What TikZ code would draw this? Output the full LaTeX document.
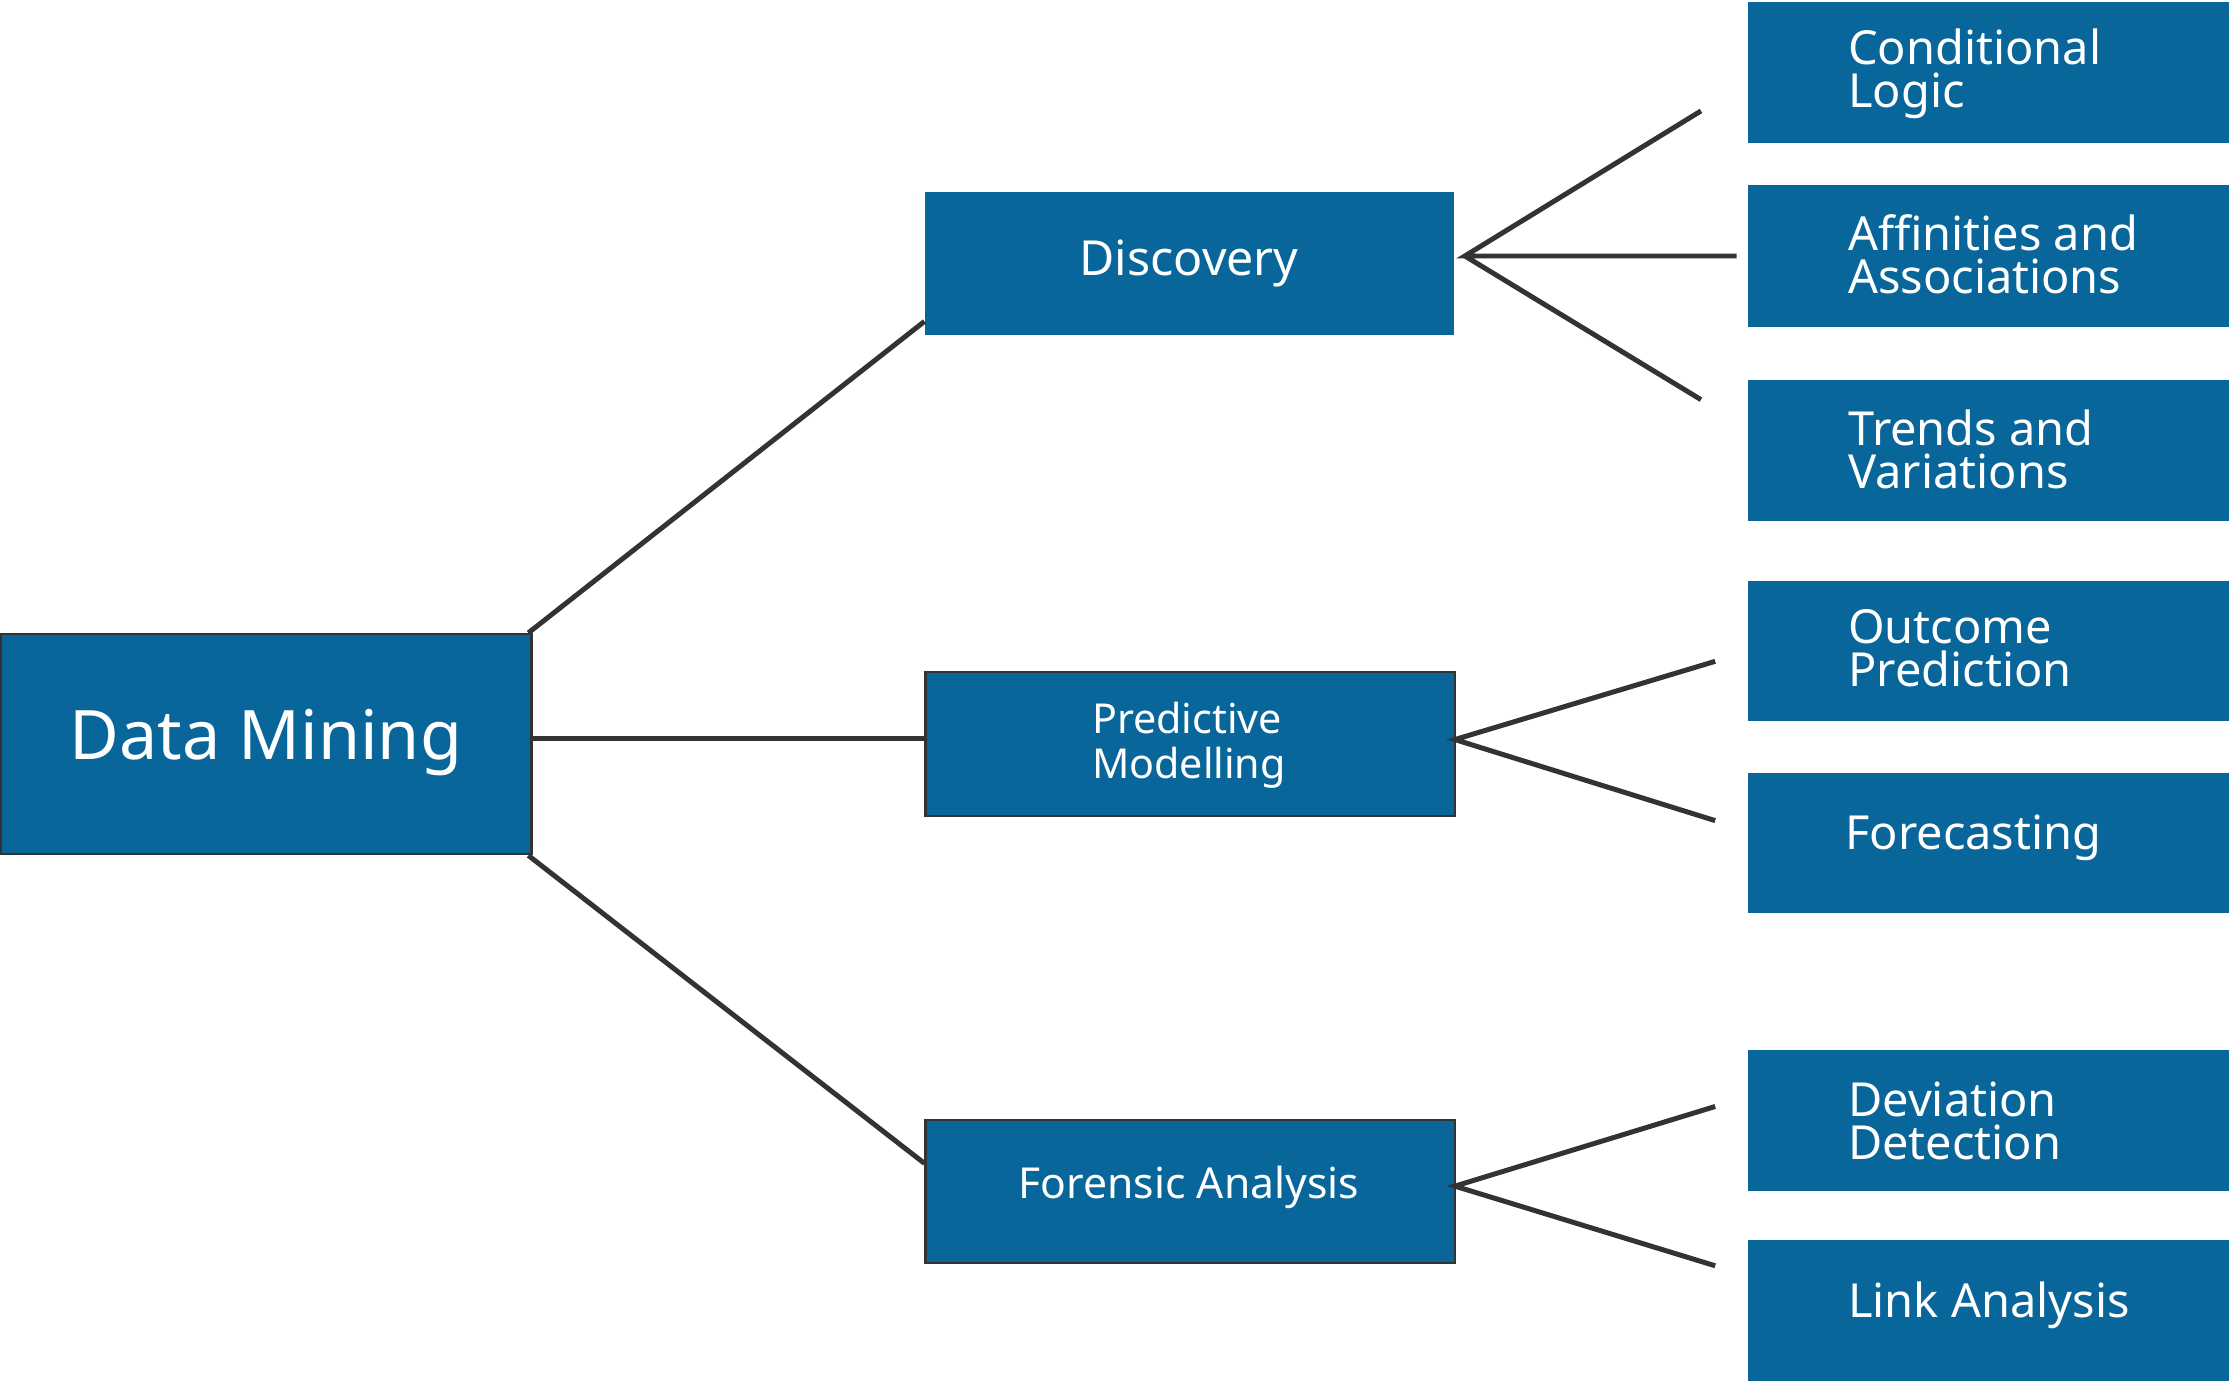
\documentclass[tikz,border=0pt]{standalone}
\usepackage{fontspec}
\setmainfont{Noto Sans}
\definecolor{bx}{HTML}{08669A}
\definecolor{ln}{HTML}{333333}
\begin{document}
\begin{tikzpicture}[x=1pt,y=-1pt,
  box/.style={fill=bx,draw=none,anchor=north west,inner sep=0pt},
  bbox/.style={box,draw=ln,line width=1.5pt},
  txt/.style={text=white,font=\fontsize{33}{36}\selectfont\bfseries,align=left,anchor=west},
  con/.style={draw=ln,line width=3.5pt}]
\useasboundingbox (0,0) rectangle (1568,975);
% main
\node[bbox,minimum width=373pt,minimum height=155pt] (dm) at (0,445) {};
\node[text=white,font=\fontsize{48}{52}\selectfont\bfseries] at (187,522) {Data Mining};
\node[box,minimum width=372pt,minimum height=100pt] (disc) at (650,135) {};
\node[text=white,font=\fontsize{34}{38}\selectfont\bfseries] at (836,185) {Discovery};
\node[bbox,minimum width=372pt,minimum height=101pt] (pred) at (650,472) {};
\node[text=white,font=\fontsize{29}{31}\selectfont\bfseries,align=left] at (836,524) {Predictive\\Modelling};
\node[bbox,minimum width=372pt,minimum height=100pt] (for) at (650,787) {};
\node[text=white,font=\fontsize{30}{33}\selectfont\bfseries] at (836,835) {Forensic Analysis};
% right
\foreach \n/\y/\h in {c1/1/99,c2/130/100,c3/267/99,c4/408/99,c5/543/99,c6/738/99,c7/872/99}
  \node[box,minimum width=338pt,minimum height=\h pt] (\n) at (1229,\y) {};
\node[txt] at (1296,52) {Conditional\\[-6pt]Logic};
\node[txt] at (1296,179) {Affinities and\\[-6pt]Associations};
\node[txt] at (1296,316) {Trends and\\[-6pt]Variations};
\node[txt] at (1296,456) {Outcome\\[-6pt]Prediction};
\node[txt] at (1294,589) {Forecasting};
\node[txt] at (1296,788) {Deviation\\[-6pt]Detection};
\node[txt] at (1296,918) {Link Analysis};
% connectors
\coordinate (d0) at (1030,180);
\coordinate (d1) at (1196,78);
\coordinate (d2) at (1221,180);
\coordinate (d3) at (1196,281);
\coordinate (p0) at (1023,520);
\coordinate (p1) at (1206,465);
\coordinate (p2) at (1206,577);
\coordinate (f0) at (1023,834);
\coordinate (f1) at (1206,778);
\coordinate (f2) at (1206,890);
\draw[con] (dm.north east) ++(-3,0) -- (disc.south west |- 0,226);
\draw[con] (373,519) -- (pred.west |- 0,519);
\draw[con] (dm.south east) ++(-3,0) -- (for.west |- 0,818);
\draw[con] (d1) -- (d0) -- (d2) (d0) -- (d3);
\draw[con] (p1) -- (p0) -- (p2);
\draw[con] (f1) -- (f0) -- (f2);
\end{tikzpicture}
\end{document}
